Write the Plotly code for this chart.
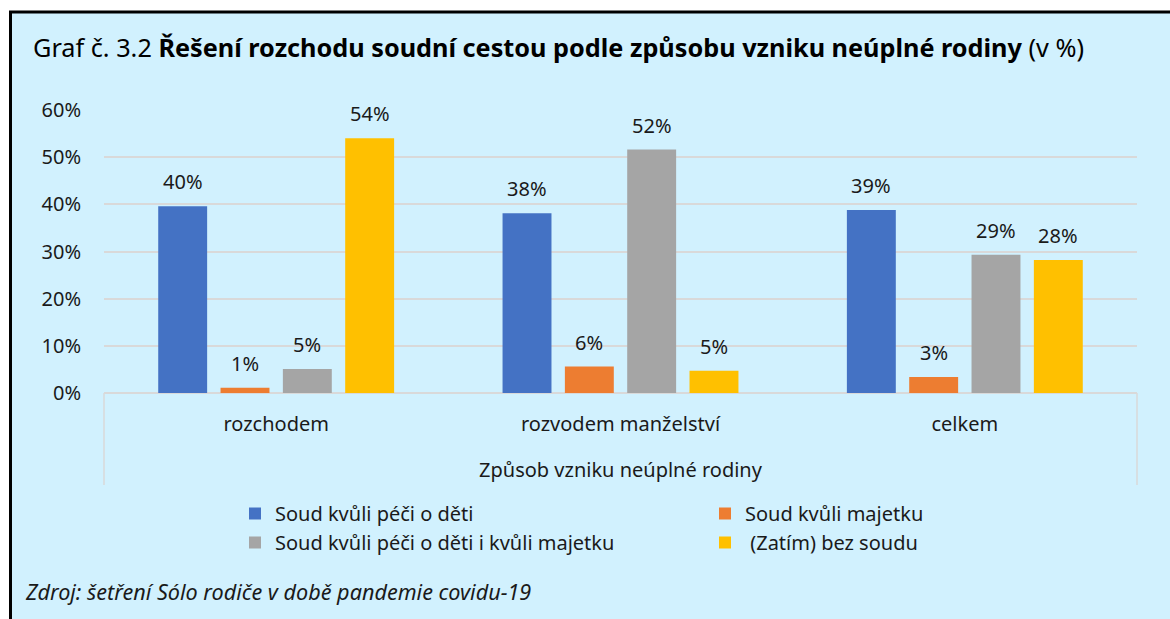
import plotly.graph_objects as go

categories = ["rozchodem", "rozvodem manželství", "celkem"]
series_names = [
    "Soud kvůli péči o děti",
    "Soud kvůli majetku",
    "Soud kvůli péči o děti i kvůli majetku",
    " (Zatím) bez soudu",
]
soud_deti = [39.6, 38.1, 38.8]
soud_majetek = [1.1, 5.6, 3.4]
soud_deti_majetek = [5.1, 51.6, 29.3]
bez_soudu = [54.0, 4.7, 28.2]
series_values = [soud_deti, soud_majetek, soud_deti_majetek, bez_soudu]
colors = ["#4472c4", "#ed7d31", "#a5a5a5", "#ffc000"]
legend_column = ["legend", "legend2", "legend", "legend2"]

y_tickvals = [0, 10, 20, 30, 40, 50, 60]
y_ticktext = ["0%", "10%", "20%", "30%", "40%", "50%", "60%"]

FONT = "Noto Sans"
W, H = 1170, 619
ML, MR, MT, MB = 104, 33, 110, 226
PW = W - ML - MR
PH = H - MT - MB
BG = "#d1f1fe"


def px_x(px):
    """window pixel x -> paper coordinate"""
    return (px - ML) / PW


def px_y(py):
    """window pixel y -> paper coordinate"""
    return (H - MB - py) / PH


bargap = 0.276
bargroupgap = 0.215

fig = go.Figure()
for name, vals, col, lg in zip(series_names, series_values, colors, legend_column):
    fig.add_trace(go.Bar(
        x=categories, y=vals, name=name, legend=lg,
        marker=dict(color=col, line=dict(width=0)),
        hoverinfo="y",
    ))

# data labels placed above each bar
n = len(series_values)
group_w = 1 - bargap
slot = group_w / n
annotations = []
for j, vals in enumerate(series_values):
    off = -group_w / 2 + (j + 0.5) * slot
    for i, v in enumerate(vals):
        annotations.append(dict(
            x=i + off, y=v, xref="x", yref="y",
            text=f"{v:.0f}%", showarrow=False,
            yanchor="bottom", yshift=9,
            font=dict(family=FONT, size=20, color="#1a1a1a"),
        ))

annotations.append(dict(
    x=px_x(23), y=px_y(591), xref="paper", yref="paper",
    text="<i>Zdroj: šetření Sólo rodiče v době pandemie covidu-19</i>",
    showarrow=False, xanchor="left", yanchor="middle",
    font=dict(family=FONT, size=21.6, color="#1a1a1a"),
))

shapes = [
    # outer framed box
    dict(type="rect", xref="paper", yref="paper",
         x0=px_x(10.5), x1=px_x(1185), y0=px_y(640), y1=px_y(12),
         fillcolor=BG, line=dict(color="black", width=3), layer="below"),
    # vertical lines boxing the category axis area
    dict(type="line", xref="paper", yref="paper",
         x0=0, x1=0, y0=0, y1=px_y(485),
         line=dict(color="#d9d9d9", width=1.5)),
    dict(type="line", xref="paper", yref="paper",
         x0=1, x1=1, y0=0, y1=px_y(485),
         line=dict(color="#d9d9d9", width=1.5)),
]

legend_common = dict(
    orientation="v", xanchor="left", yanchor="top",
    itemwidth=30, traceorder="normal",
    font=dict(family=FONT, size=20, color="#1a1a1a"),
    bgcolor="rgba(0,0,0,0)", borderwidth=0,
    itemclick=False, itemdoubleclick=False,
)

fig.update_layout(
    width=W, height=H,
    margin=dict(l=ML, r=MR, t=MT, b=MB, pad=0),
    paper_bgcolor="white",
    plot_bgcolor="rgba(0,0,0,0)",
    barmode="group", bargap=bargap, bargroupgap=bargroupgap,
    font=dict(family=FONT, size=20, color="#1a1a1a"),
    title=dict(
        text="Graf č. 3.2 <b>Řešení rozchodu soudní cestou podle způsobu vzniku neúplné rodiny</b> (v %)",
        x=33 / W, xref="container", xanchor="left",
        y=1 - 48 / H, yref="container", yanchor="middle",
        font=dict(family=FONT, size=25.25, color="black"),
    ),
    xaxis=dict(
        type="category", showgrid=False, showline=False, zeroline=False,
        ticks="", tickfont=dict(size=20),
        ticklabelstandoff=17,
        title=dict(text="Způsob vzniku neúplné rodiny", standoff=26,
                   font=dict(size=20)),
    ),
    yaxis=dict(
        range=[0, 60], tickvals=y_tickvals, ticktext=y_ticktext,
        showgrid=True, gridcolor="#d9d9d9", gridwidth=1.5,
        zeroline=True, zerolinecolor="#d9d9d9", zerolinewidth=1.5,
        showline=False, ticks="", ticklabelstandoff=22,
        tickfont=dict(size=20),
    ),
    legend=dict(x=px_x(235), y=px_y(494), **legend_common),
    legend2=dict(x=px_x(705), y=px_y(494), **legend_common),
    annotations=annotations,
    shapes=shapes,
    showlegend=True,
)

# remove the browser's default page margin so the figure fills the window
fig.write_html(
    "out.html",
    config={"displayModeBar": False},
    post_script="document.body.style.margin='0';document.body.style.overflow='hidden';",
)
